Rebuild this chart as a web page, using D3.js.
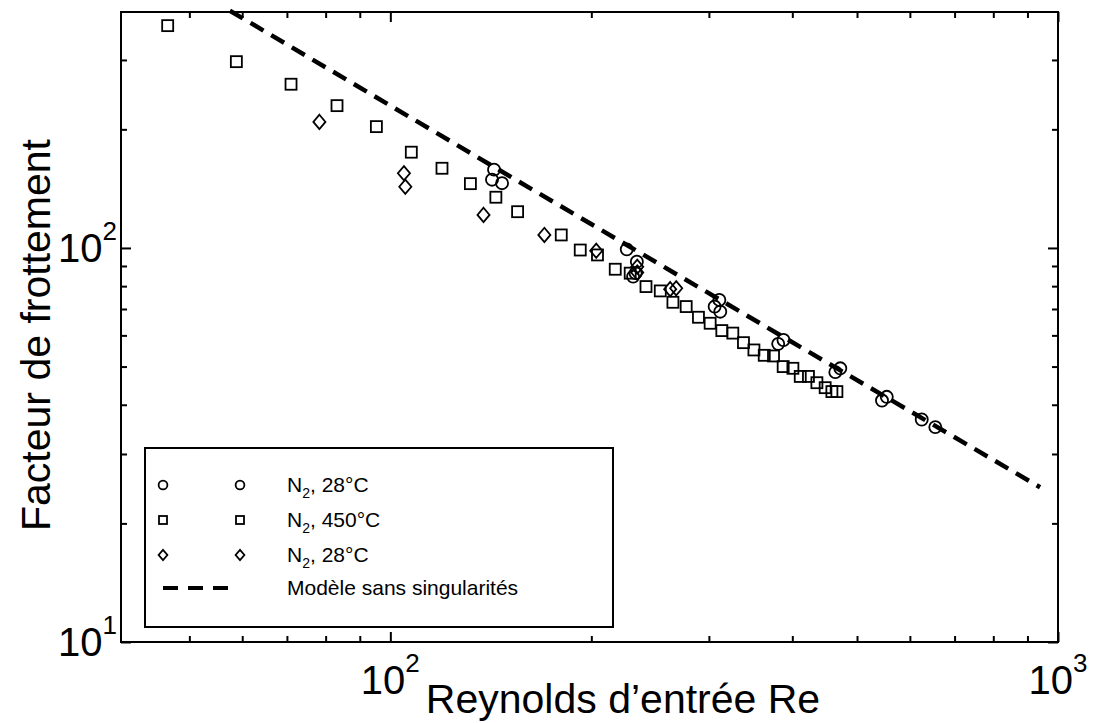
<!DOCTYPE html>
<html>
<head>
<meta charset="utf-8">
<script src="https://cdn.jsdelivr.net/npm/d3@7"></script>
<style>
  body { margin: 0; background: #fff; }
  text { font-family: Arial, "Liberation Sans", Helvetica, sans-serif; fill: #000; }
</style>
</head>
<body>
<svg id="chart" width="1093" height="723"></svg>
<script>
// N2, 28°C (circles)
const circleRe = [143, 142, 147, 226, 234, 233, 231, 311, 306, 312, 388, 381, 472, 464, 554, 545, 625, 655];
const circleF  = [158, 149, 146, 99.2, 92.3, 86.3, 84.6, 73.8, 71.0, 68.9, 58.4, 57.1, 49.5, 48.4, 41.9, 41.0, 36.7, 35.1];

// N2, 450°C (squares)
const squareRe = [46.4, 58.8, 71.0, 83.2, 95.3, 107.5, 119.5, 131.8, 143.9, 155.1, 180.3, 192.5, 204.3, 217.2,
                  228.7, 241.5, 253.7, 265.0, 277.4, 289.4, 301.3, 313.7, 325.8, 338.0, 350.4, 363.1, 374.9,
                  387.6, 400.8, 411.1, 422.9, 435.4, 448.0, 458.5, 466.5];
const squareF  = [366.6, 297.0, 260.3, 229.7, 203.2, 175.0, 159.3, 145.6, 134.5, 123.6, 107.9, 98.8, 96.0, 88.3,
                  86.3, 79.8, 77.8, 72.8, 71.0, 66.7, 64.4, 61.7, 60.8, 57.5, 55.1, 53.4, 53.2,
                  50.0, 49.5, 47.2, 47.2, 45.5, 44.2, 43.2, 43.2];

// N2, 28°C (diamonds)
const diamondRe = [78.3, 104.8, 105.3, 137.9, 170.1, 203.4, 234.3, 234.3, 262.5, 268.0];
const diamondF  = [208.9, 154.7, 143.0, 121.3, 107.9, 98.4, 89.6, 86.6, 78.6, 79.0];

// Modèle sans singularités (dashed)
const modelRe = [57.5, 152, 411, 940];
const modelF  = [400, 151, 56.1, 24.7];

// ticks
const majorX = [100, 1000];
const minorX = [50, 60, 70, 80, 90, 200, 300, 400, 500, 600, 700, 800, 900];
const majorY = [10, 100];
const minorY = [20, 30, 40, 50, 60, 70, 80, 90, 200, 300];
const xTickLabels = [{v: 100, e: "2"}, {v: 1000, e: "3"}];
const yTickLabels = [{v: 10, e: "1"}, {v: 100, e: "2"}];

const legendItems = [
  {sym: "circle", base: "N", sub: "2", rest: ", 28°C"},
  {sym: "square", base: "N", sub: "2", rest: ", 450°C"},
  {sym: "diamond", base: "N", sub: "2", rest: ", 28°C"},
  {sym: "dash", text: "Modèle sans singularités"}
];

const svg = d3.select("#chart");
const pLeft = 121, pRight = 1058, pTop = 12, pBottom = 642;

const x = d3.scaleLog().domain([39.5, 1000]).range([pLeft, pRight]);
const y = d3.scaleLog().domain([10, 397]).range([pBottom, pTop]);

// ticks on all four sides, pointing inward
function ticks(axisFn, scale, vals, len, tx, ty) {
  const g = svg.append("g").attr("transform", `translate(${tx},${ty})`)
    .call(axisFn(scale).tickValues(vals).tickFormat("").tickSizeInner(-len).tickSizeOuter(0));
  g.select(".domain").remove();
  g.selectAll(".tick line").attr("stroke", "#000").attr("stroke-width", 2);
}
ticks(d3.axisBottom, x, majorX, 10, 0, pBottom);
ticks(d3.axisBottom, x, minorX, 6, 0, pBottom);
ticks(d3.axisTop, x, majorX, 10, 0, pTop);
ticks(d3.axisTop, x, minorX, 6, 0, pTop);
ticks(d3.axisLeft, y, majorY, 10, pLeft, 0);
ticks(d3.axisLeft, y, minorY, 6, pLeft, 0);
ticks(d3.axisRight, y, majorY, 10, pRight, 0);
ticks(d3.axisRight, y, minorY, 6, pRight, 0);

svg.append("rect")
  .attr("x", pLeft).attr("y", pTop)
  .attr("width", pRight - pLeft).attr("height", pBottom - pTop)
  .attr("fill", "none").attr("stroke", "#000").attr("stroke-width", 2);

// tick labels 10^n
xTickLabels.forEach(d => {
  const t = svg.append("text")
    .attr("x", x(d.v)).attr("y", pBottom + 52)
    .attr("text-anchor", "middle").style("font-size", "40px");
  t.append("tspan").text("10");
  t.append("tspan").attr("dy", -22).style("font-size", "26px").text(d.e);
});
yTickLabels.forEach(d => {
  const t = svg.append("text")
    .attr("x", pLeft - 4).attr("y", y(d.v) + 14)
    .attr("text-anchor", "end").style("font-size", "40px");
  t.append("tspan").text("10");
  t.append("tspan").attr("dy", -22).style("font-size", "26px").text(d.e);
});

// axis titles
svg.append("text")
  .attr("x", 623).attr("y", 713)
  .attr("text-anchor", "middle").style("font-size", "41px")
  .text("Reynolds d\u2019entrée Re");
svg.append("text")
  .attr("transform", "translate(50,335) rotate(-90)")
  .attr("text-anchor", "middle").style("font-size", "41px")
  .text("Facteur de frottement");

const plot = svg.append("g");

// model line
const line = d3.line().x(d => x(d[0])).y(d => y(d[1]));
plot.append("path")
  .datum(d3.zip(modelRe, modelF))
  .attr("d", line)
  .attr("fill", "none").attr("stroke", "#000")
  .attr("stroke-width", 4.5).attr("stroke-dasharray", "15,9");

function drawSymbol(g, sym, cx, cy, s) {
  if (sym === "circle") {
    g.append("circle").attr("cx", cx).attr("cy", cy).attr("r", s * 0.55)
      .attr("fill", "none").attr("stroke", "#000").attr("stroke-width", 1.8);
  } else if (sym === "square") {
    g.append("rect").attr("x", cx - s / 2).attr("y", cy - s / 2).attr("width", s).attr("height", s)
      .attr("fill", "none").attr("stroke", "#000").attr("stroke-width", 1.8);
  } else if (sym === "diamond") {
    const w = s * 0.55, h = s * 0.65;
    g.append("path").attr("d", `M${cx},${cy - h}L${cx + w},${cy}L${cx},${cy + h}L${cx - w},${cy}Z`)
      .attr("fill", "none").attr("stroke", "#000").attr("stroke-width", 1.8);
  }
}

d3.zip(squareRe, squareF).forEach(d => drawSymbol(plot, "square", x(d[0]), y(d[1]), 11));
d3.zip(diamondRe, diamondF).forEach(d => drawSymbol(plot, "diamond", x(d[0]), y(d[1]), 11));
d3.zip(circleRe, circleF).forEach(d => drawSymbol(plot, "circle", x(d[0]), y(d[1]), 11));

// legend
const lg = svg.append("g");
lg.append("rect").attr("x", 145).attr("y", 448).attr("width", 468).attr("height", 179)
  .attr("fill", "#fff").attr("stroke", "#000").attr("stroke-width", 2);
const rowY = [485, 520, 555, 588];
legendItems.forEach((d, i) => {
  const ry = rowY[i];
  if (d.sym === "dash") {
    lg.append("line").attr("x1", 163).attr("x2", 228).attr("y1", ry).attr("y2", ry)
      .attr("stroke", "#000").attr("stroke-width", 4).attr("stroke-dasharray", "15,10");
    lg.append("text").attr("x", 287).attr("y", ry + 7).style("font-size", "21px").text(d.text);
  } else {
    drawSymbol(lg, d.sym, 163, ry, 8);
    drawSymbol(lg, d.sym, 240, ry, 8);
    const t = lg.append("text").attr("x", 287).attr("y", ry + 7).style("font-size", "21px");
    t.append("tspan").text(d.base);
    t.append("tspan").attr("dy", 6).style("font-size", "14px").text(d.sub);
    t.append("tspan").attr("dy", -6).text(d.rest);
  }
});
</script>
</body>
</html>
